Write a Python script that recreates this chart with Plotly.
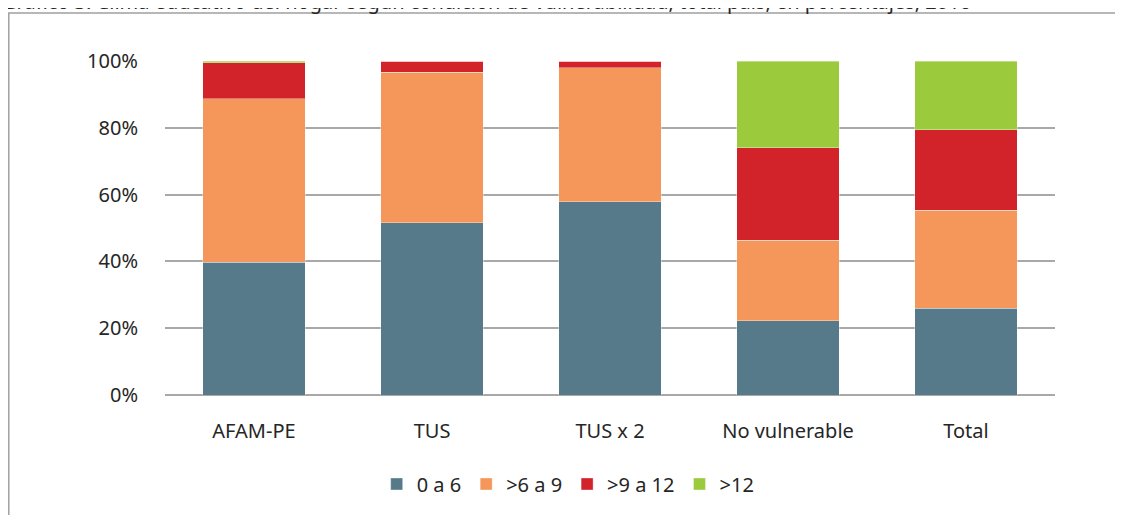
import plotly.graph_objects as go

# Data (percent of households)
categories = ["AFAM-PE", "TUS", "TUS x 2", "No vulnerable", "Total"]
s_0a6 = [39.7, 51.6, 57.9, 22.2, 26.0]
s_6a9 = [49.0, 45.0, 40.1, 24.2, 29.3]
s_9a12 = [10.8, 3.4, 2.0, 27.6, 24.1]
s_12 = [0.5, 0.0, 0.0, 26.0, 20.6]

series = [
    ("0 a 6", s_0a6, "#577a8a"),
    (">6 a 9", s_6a9, "#f5965a"),
    (">9 a 12", s_9a12, "#d2232a"),
    (">12", s_12, "#9bca3c"),
]

fig = go.Figure()
for name, vals, color in series:
    fig.add_trace(go.Bar(
        x=categories,
        y=vals,
        name=name,
        marker=dict(color=color, line=dict(color="rgba(255,255,255,0.6)", width=0.6)),
    ))

# the page has an 8px body margin, so margins are shifted by that much
L, T, PW, PH = 157, 53, 890, 334

fig.update_layout(
    barmode="stack",
    bargap=0.425,
    width=1123,
    height=515,
    paper_bgcolor="white",
    plot_bgcolor="white",
    font=dict(family="Noto Sans", size=20, color="#262626"),
    margin=dict(l=L, r=1123 - L - PW, t=T, b=515 - T - PH),
    legend=dict(
        orientation="h",
        x=0.453, xanchor="center",
        y=-0.208, yanchor="top",
        font=dict(size=20),
        traceorder="normal",
        itemwidth=30,
    ),
    xaxis=dict(
        showgrid=False,
        showline=False,
        ticks="outside",
        ticklen=18,
        tickcolor="rgba(0,0,0,0)",
        tickfont=dict(size=20),
        automargin=False,
    ),
    yaxis=dict(
        range=[0, 100],
        dtick=20,
        ticksuffix="%",
        showgrid=True,
        gridcolor="#a8a8a8",
        gridwidth=1.8,
        zeroline=True,
        zerolinecolor="#a8a8a8",
        zerolinewidth=1.8,
        ticks="outside",
        ticklen=22,
        tickcolor="rgba(0,0,0,0)",
        tickfont=dict(size=20),
        automargin=False,
    ),
    shapes=[
        # outer frame of the original figure box
        dict(type="rect", xref="paper", yref="paper",
             x0=(0.8 - L) / PW, x1=(1200 - L) / PW,
             y0=-200 / PH, y1=1 + (T - 5) / PH,
             line=dict(color="#a0a0a0", width=1.5), fillcolor="rgba(0,0,0,0)",
             layer="below"),
    ],
    annotations=[
        # caption that is cut off at the top edge of the original image
        dict(text="Gráfico 3. Clima educativo del hogar según condición de vulnerabilidad, total país, en porcentajes, 2016",
             xref="paper", yref="paper", x=(-8 - L) / PW, y=1 + (T - 9) / PH,
             xanchor="left", yanchor="bottom", showarrow=False,
             font=dict(size=20, color="#262626")),
    ],
)

fig.write_html("out.html")
